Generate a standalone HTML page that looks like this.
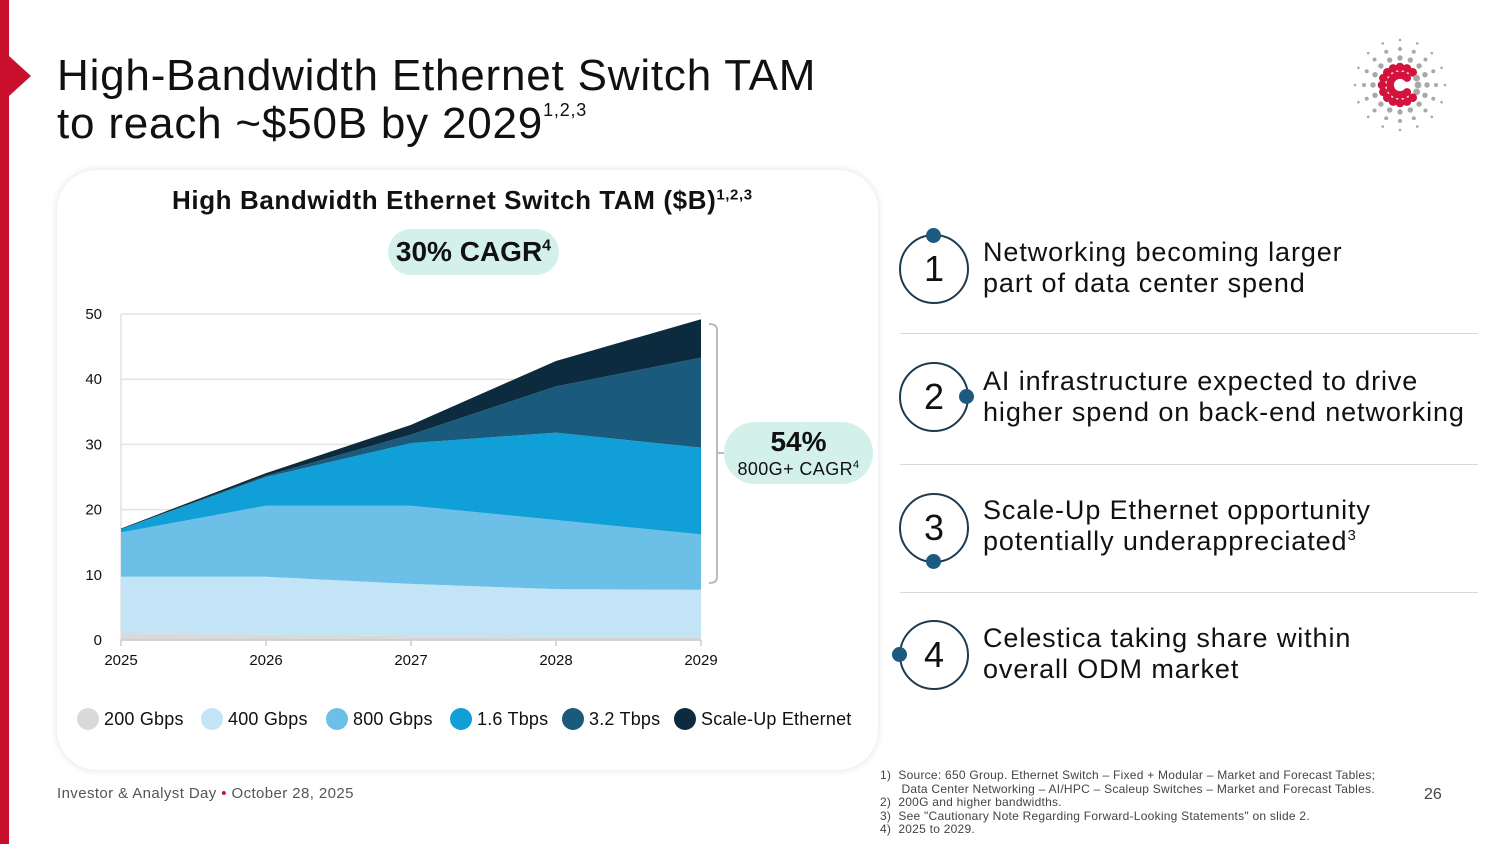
<!DOCTYPE html>
<html><head><meta charset="utf-8">
<style>
body{margin:0;width:1500px;height:844px;overflow:hidden;background:#fff;font-family:"Liberation Sans",sans-serif;color:#111;position:relative}
.a{position:absolute}
sup{line-height:0}
.item-text{position:absolute;left:983px;font-size:27px;line-height:31px;color:#111;white-space:nowrap;letter-spacing:0.9px}
.circ{position:absolute;width:66px;height:66px;border:2.5px solid #1d3a4f;border-radius:50%;font-size:36px;text-align:center;line-height:66px;color:#111;box-sizing:content-box}
.dot{position:absolute;width:15px;height:15px;border-radius:50%;background:#1d5a80}
.sep{position:absolute;left:900px;width:578px;height:1px;background:#d8d8d8}
.leg{position:absolute;top:708px;font-size:18px;line-height:22px;white-space:nowrap;letter-spacing:0.2px}
.leg i{display:inline-block;width:22px;height:22px;border-radius:50%;vertical-align:-5px;margin-right:5px}
.fn{position:absolute;left:880px;font-size:12px;color:#444;line-height:13.5px;white-space:pre;letter-spacing:0.25px}
</style></head><body>
<div class="a" style="left:0;top:0;width:9px;height:844px;background:#c8102e"></div>
<div class="a" style="left:9px;top:56px;width:0;height:0;border-top:20px solid transparent;border-bottom:20px solid transparent;border-left:22px solid #c8102e"></div>
<div class="a" style="left:57px;top:52px;font-size:44px;line-height:48px;color:#111;letter-spacing:0.8px;white-space:nowrap">High-Bandwidth Ethernet Switch TAM<br>to reach ~$50B by 2029<sup style="font-size:18px;vertical-align:22px">1,2,3</sup></div>
<svg class="a" id="logo" style="left:1340px;top:25px" width="120" height="120"></svg>

<div class="a" style="left:57px;top:170px;width:821px;height:600px;border-radius:40px;background:#fff;box-shadow:0 0 8px rgba(0,0,0,0.12)"></div>
<div class="a" style="left:172px;top:185px;font-size:26px;font-weight:bold;color:#111;white-space:nowrap;letter-spacing:0.6px">High Bandwidth Ethernet Switch TAM ($B)<sup style="font-size:15px">1,2,3</sup></div>
<div class="a" style="left:388px;top:229px;width:171px;height:46px;border-radius:23px;background:#d3f1ea;font-size:28px;font-weight:bold;text-align:center;line-height:46px">30% CAGR<sup style="font-size:16px">4</sup></div>
<div class="a" style="left:724px;top:422px;width:149px;height:62px;border-radius:31px;background:#d3f1ea;text-align:center"><div style="font-size:28px;font-weight:bold;line-height:34px;margin-top:3px">54%</div><div style="font-size:18px;line-height:20px;letter-spacing:0.4px">800G+ CAGR<sup style="font-size:11px">4</sup></div></div>

<svg class="a" id="chart" style="left:0;top:0" width="880" height="700"></svg>

<div class="leg" style="left:77px"><i style="background:#d9d9d9"></i>200 Gbps</div>
<div class="leg" style="left:201px"><i style="background:#c3e4f6"></i>400 Gbps</div>
<div class="leg" style="left:326px"><i style="background:#6cbfe6"></i>800 Gbps</div>
<div class="leg" style="left:450px"><i style="background:#109fd7"></i>1.6 Tbps</div>
<div class="leg" style="left:562px"><i style="background:#1a5b7d"></i>3.2 Tbps</div>
<div class="leg" style="left:674px"><i style="background:#0d2b3e"></i>Scale-Up Ethernet</div>

<div class="circ" style="left:899px;top:234px">1</div>
<div class="dot" style="left:926px;top:228px"></div>
<div class="item-text" style="top:237px">Networking becoming larger<br>part of data center spend</div>
<div class="sep" style="top:333px"></div>
<div class="circ" style="left:899px;top:362px">2</div>
<div class="dot" style="left:959px;top:389px"></div>
<div class="item-text" style="top:366px">AI infrastructure expected to drive<br>higher spend on back-end networking</div>
<div class="sep" style="top:464px"></div>
<div class="circ" style="left:899px;top:493px">3</div>
<div class="dot" style="left:926px;top:554px"></div>
<div class="item-text" style="top:495px">Scale-Up Ethernet opportunity<br>potentially underappreciated<sup style="font-size:15px">3</sup></div>
<div class="sep" style="top:592px"></div>
<div class="circ" style="left:899px;top:620px">4</div>
<div class="dot" style="left:892px;top:647px"></div>
<div class="item-text" style="top:623px">Celestica taking share within<br>overall ODM market</div>

<div class="a" style="left:57px;top:785px;font-size:15px;color:#555;letter-spacing:0.4px">Investor &amp; Analyst Day <span style="color:#c8102e">•</span> October 28, 2025</div>
<div class="fn" style="top:769px">1)  Source: 650 Group. Ethernet Switch – Fixed + Modular – Market and Forecast Tables;
      Data Center Networking – AI/HPC – Scaleup Switches – Market and Forecast Tables.
2)  200G and higher bandwidths.
3)  See "Cautionary Note Regarding Forward-Looking Statements" on slide 2.
4)  2025 to 2029.</div>
<div class="a" style="left:1424px;top:786px;font-size:16px;color:#444">26</div>

<script>
const years=["2025","2026","2027","2028","2029"];
const yTicks=[0,10,20,30,40,50];
const s200=[1.0,0.8,0.6,0.5,0.5];
const s400=[8.7,8.9,8.0,7.3,7.2];
const s800=[6.8,10.9,12.0,10.6,8.5];
const s1600=[0.5,4.4,9.6,13.4,13.3];
const s3200=[0.0,0.2,1.3,7.1,13.8];
const sScale=[0.1,0.4,1.5,3.9,5.9];
const NS="http://www.w3.org/2000/svg";
const svg=document.getElementById('chart');
const X0=121,X1=701,Y0=640,Y1=314;
const xs=i=>X0+(X1-X0)*i/(years.length-1);
const ys=v=>Y0-(Y0-Y1)*v/50;
function mk(t,a){const e=document.createElementNS(NS,t);for(const k in a)e.setAttribute(k,a[k]);svg.appendChild(e);return e;}
yTicks.forEach(t=>{
  const l=mk('line',{x1:X0,x2:X1,y1:ys(t),y2:ys(t),stroke:'#e3e3e3','stroke-width':1.5});
  
  
  const tx=mk('text',{x:102,y:ys(t)+5,'text-anchor':'end','font-size':15,'font-family':'Liberation Sans, sans-serif',fill:'#111'});
  tx.textContent=t;
  
  
});
const yax=mk('line',{x1:X0,x2:X0,y1:Y1,y2:Y0,stroke:'#e3e3e3','stroke-width':1.5});


const series=[s200,s400,s800,s1600,s3200,sScale];
const colors=['#d9d9d9','#c3e4f6','#6cbfe6','#109fd7','#1a5b7d','#0d2b3e'];
const names=['200g','400g','800g','1-6t','3-2t','scale-up'];
let base=years.map(()=>0);
series.forEach((s,k)=>{
  const top=base.map((b,i)=>b+s[i]);
  let d='M'+years.map((_,i)=>xs(i)+','+ys(top[i])).join('L');
  for(let i=years.length-1;i>=0;i--)d+='L'+xs(i)+','+ys(base[i]);
  const p=mk('path',{d:d+'Z',fill:colors[k]});
  
  
  base=top;
});
const xax=mk('line',{x1:X0,x2:X1,y1:Y0,y2:Y0,stroke:'#ccc','stroke-width':1.5});


years.forEach((y,i)=>{
  mk('line',{x1:xs(i),x2:xs(i),y1:Y0,y2:Y0+6,stroke:'#ccc','stroke-width':1.5});
  const tx=mk('text',{x:xs(i),y:665,'text-anchor':'middle','font-size':15,'font-family':'Liberation Sans, sans-serif',fill:'#111'});
  tx.textContent=y;
  
  
});
const br=mk('path',{d:'M709,324 Q717,324 717,330 L717,577 Q717,583 709,583 M717,453 L724,453',fill:'none',stroke:'#bbb','stroke-width':2});


// logo: starburst of dots, red "C" on inner rings
const lg=document.getElementById('logo');
const cx=60,cy=60;
const radii=[10,18,27,36,45];
for(let a=0;a<16;a++){
  const ang=a*Math.PI/8;
  const deg=a*22.5;
  const nearRight=(deg<=40||deg>=320);
  radii.forEach((r,j)=>{
    const red=j<2&&!nearRight;
    if(j===0&&nearRight)return;
    const c=document.createElementNS(NS,'circle');
    c.setAttribute('cx',cx+r*Math.cos(ang));
    c.setAttribute('cy',cy+r*Math.sin(ang));
    c.setAttribute('r',red?(j===0?4:4.3):Math.max(1.2,3.4-(j-1)*0.7));
    c.setAttribute('fill',red?'#d3133c':'#a8a8a8');
    lg.appendChild(c);
  });
}
</script>
</body></html>
